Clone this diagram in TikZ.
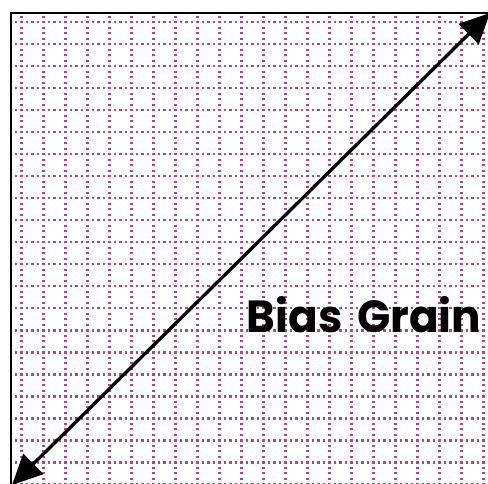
\documentclass[tikz,border=0pt]{standalone}
\usepackage{fontspec}
\usepackage{tikz}
\usetikzlibrary{arrows.meta}
\newfontfamily\grainfont{Poppins}
\definecolor{ink}{HTML}{000000}
\definecolor{gridpink}{HTML}{B0487F}
\tikzset{
  frame/.style={draw=ink,line width=2.2pt},
  gridline/.style={draw=gridpink,line width=2.4pt,dash pattern=on 2.4pt off 3.1pt,dash phase=1.2pt},
  ar/.style={{Triangle[length=30pt,width=28pt]}-{Triangle[length=30pt,width=28pt]},line width=3.3pt,draw=ink},
  lbl/.style={font=\grainfont\bfseries\fontsize{45}{52}\selectfont,text=ink,inner sep=0pt},
}
\begin{document}
\begin{tikzpicture}[x=1pt,y=-1pt]
  \useasboundingbox (0,0) rectangle (488,484);
  % dotted grid, 22px cells
  \begin{scope}
    \clip (11,13) rectangle (488,484);
    \foreach \k in {0,...,22} {
      \draw[gridline] (-0.7+22*\k,0.3) -- (-0.7+22*\k,484);
      \draw[gridline] (-0.7,0.3+22*\k) -- (488,0.3+22*\k);
    }
  \end{scope}
  % only left and top edges of the frame show
  \draw[frame] (11,484) -- (11,13) -- (488,13);
  \coordinate (sw) at (12,485);
  \coordinate (ne) at (490,13);
  \draw[ar] (sw) -- (ne);
  \node[lbl,anchor=base,xscale=0.97] (grain) at (364,333) {Bias\hspace{0.12em} Grain};
\end{tikzpicture}
\end{document}
